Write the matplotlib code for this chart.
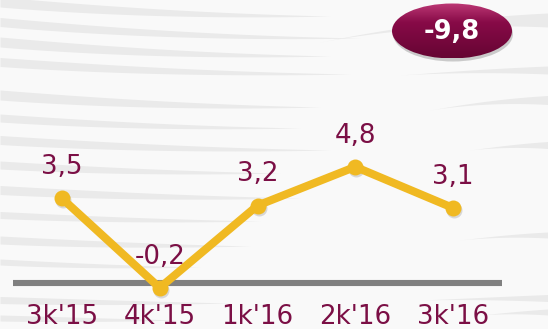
import matplotlib.pyplot as plt
import numpy as np
from matplotlib.patches import Ellipse
from matplotlib.transforms import ScaledTranslation

# quarterly growth, %
quarters = ["3k'15", "4k'15", "1k'16", "2k'16", "3k'16"]
values = [3.5, -0.2, 3.2, 4.8, 3.1]
badge_text = "-9,8"

MAROON = "#7B0F45"
GOLD = "#F0B922"
W, H = 548, 329

plt.rcParams['font.family'] = ['DejaVu Sans']

fig = plt.figure(figsize=(W / 100, H / 100), dpi=100)
fig.patch.set_facecolor("#F9F9F9")

# background layer in pixel coordinates
bg = fig.add_axes([0, 0, 1, 1])
bg.set_xlim(0, W)
bg.set_ylim(H, 0)
bg.axis("off")


def brush(x0, x1, y0, y1, thick, side="left"):
    t = np.linspace(0, 1, 60)
    xs = x0 + (x1 - x0) * t
    ys = y0 + (y1 - y0) * (1 - (1 - t) ** 2)
    if side == "left":
        w = thick * (1 - t ** 1.5)
    else:
        w = thick * (t ** 1.5)
    bg.fill_between(xs, ys - w / 2, ys + w / 2, color="#EAEAEA", lw=0, zorder=1)


# brush strokes coming from the left edge
for y0, dy, x1, th in [(2, 14, 330, 10), (22, 16, 360, 9), (42, 14, 330, 10),
                       (62, 12, 350, 9), (95, 12, 320, 10), (118, 10, 300, 8),
                       (140, 10, 330, 9), (165, 8, 280, 8), (190, 8, 300, 9),
                       (215, 6, 260, 7), (240, 6, 250, 8), (262, 5, 200, 6),
                       (300, 3, 230, 7), (318, 2, 180, 6)]:
    brush(0, x1, y0, y0 + dy, th)

# strokes coming from the right edge
for x0, y0, y1, th in [(320, 42, 20, 14), (400, 75, 70, 8), (430, 110, 100, 9),
                       (470, 150, 145, 7), (460, 240, 235, 6), (420, 300, 298, 7),
                       (480, 315, 312, 6)]:
    brush(x0, W, y0, y1, th, side="right")

# badge with the year-on-year figure
cx, cy, ew, eh = 452, 31, 120, 55
shadow = Ellipse((cx + 1, cy + 3), ew, eh, color="#00000030", lw=0, zorder=2)
bg.add_patch(shadow)
badge = Ellipse((cx, cy), ew, eh, facecolor="none", lw=0, zorder=3)
bg.add_patch(badge)
gy = np.linspace(0, 1, 100)[:, None]
top = np.array([0.74, 0.22, 0.46])
mid = np.array([0.53, 0.04, 0.28])
bot = np.array([0.40, 0.02, 0.20])
shade = np.where(gy < 0.35, top + (mid - top) * (gy / 0.35),
                 mid + (bot - mid) * ((gy - 0.35) / 0.65))
grad = np.repeat(shade[:, None, :], 10, axis=1)
im = bg.imshow(grad, extent=(cx - ew / 2, cx + ew / 2, cy + eh / 2, cy - eh / 2),
               aspect="auto", zorder=3, interpolation="bilinear")
im.set_clip_path(badge)
bg.text(cx, cy + 1, badge_text, color="white", fontsize=18.5, fontweight="bold",
        ha="center", va="center", zorder=4)

# main chart
ax = fig.add_axes([13 / W, 0, 489 / W, 1])
ax.patch.set_alpha(0)
ax.set_xlim(-0.5, len(quarters) - 0.5)
ax.set_ylim(-46 / 24.2, (H - 46) / 24.2)
ax.axis("off")

ax.axhline(0, color="#808080", lw=4.4, zorder=2)

x = np.arange(len(quarters))
shift = ax.transData + ScaledTranslation(1 / 100, -2 / 100, fig.dpi_scale_trans)
ax.plot(x, values, color="#00000022", lw=0, marker="o", markersize=11.5,
        markeredgewidth=0, transform=shift, zorder=3)
ax.plot(x, values, color=GOLD, lw=5.8, marker="o", markersize=11.5,
        markeredgewidth=0, solid_capstyle="round", zorder=4)

for i, v in enumerate(values):
    ax.annotate(f"{v:.1f}".replace(".", ","), (i, v), xytext=(0, 17.5),
                textcoords="offset points", ha="center", va="baseline",
                color=MAROON, fontsize=18.8, zorder=5)
    ax.annotate(quarters[i], (i, 0), xytext=(0, -29.5),
                textcoords="offset points", ha="center", va="baseline",
                color=MAROON, fontsize=18.8, zorder=5)

fig.savefig("out.png", dpi=100, facecolor=fig.get_facecolor())
